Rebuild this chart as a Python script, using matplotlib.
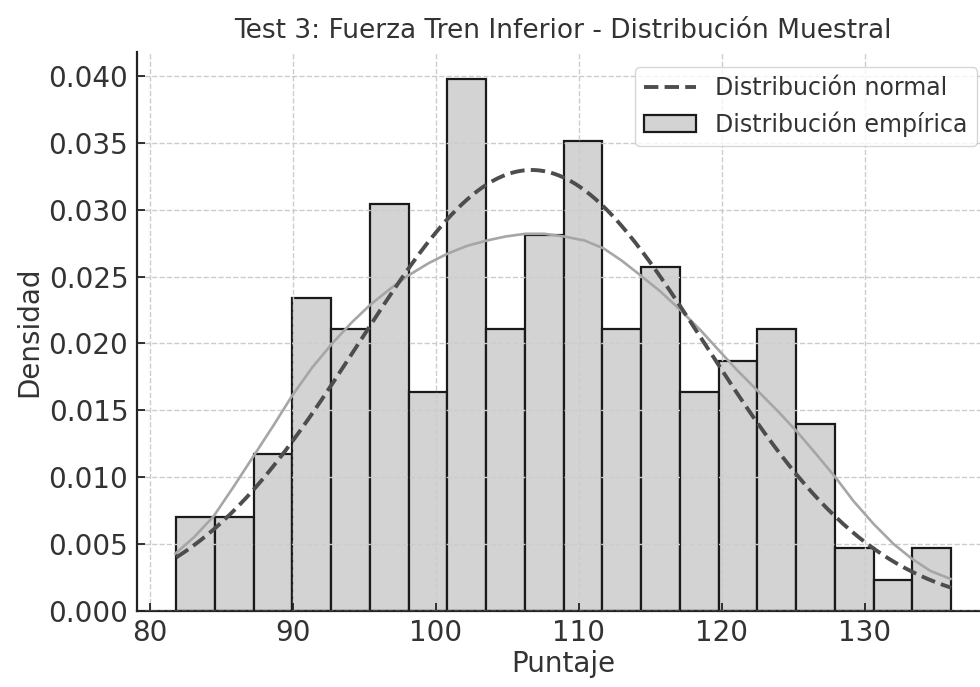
import matplotlib
matplotlib.use("Agg")
import matplotlib.pyplot as plt
import numpy as np

# histogram (density per bin)
bin_start = 81.85
bin_width = 2.71
densities = [0.0070, 0.0070, 0.0117, 0.0234, 0.0211, 0.0304, 0.0164, 0.0398,
             0.0211, 0.0281, 0.0351, 0.0211, 0.0257, 0.0164, 0.0187, 0.0211,
             0.0140, 0.0047, 0.0023, 0.0047]

# fitted normal
mu = 106.7
sigma = 12.1

kde_x = [81.80, 83.08, 84.48, 85.87, 87.27, 88.67, 89.96, 91.36, 92.76, 94.15,
         95.43, 96.83, 98.11, 99.50, 100.80, 102.20, 103.59, 104.90, 106.27,
         107.60, 108.95, 110.40, 111.75, 113.00, 114.31, 115.70, 117.11,
         118.51, 119.79, 121.08, 122.48, 123.87, 125.27, 126.55, 127.95,
         129.23, 130.63, 132.03, 133.31, 134.59, 135.99]
kde_y = [0.0043, 0.0055, 0.0071, 0.0093, 0.0116, 0.0139, 0.0161, 0.0182,
         0.0200, 0.0216, 0.0229, 0.0241, 0.0251, 0.0260, 0.0267, 0.0273,
         0.0277, 0.0280, 0.0282, 0.0282, 0.0280, 0.0277, 0.0271, 0.0262,
         0.0251, 0.0239, 0.0225, 0.0210, 0.0195, 0.0180, 0.0165, 0.0150,
         0.0134, 0.0118, 0.0100, 0.0082, 0.0065, 0.0050, 0.0039, 0.0030,
         0.0024]

title = "Test 3: Fuerza Tren Inferior - Distribución Muestral"
x_title = "Puntaje"
y_title = "Densidad"

TXT = "#333333"

fig = plt.figure(figsize=(9.8, 6.87), dpi=100)
ax = fig.add_axes([136.7 / 980, 76 / 687, (990 - 136.7) / 980, (611 - 52) / 687])

edges = bin_start + bin_width * np.arange(len(densities) + 1)
ax.hist(edges[:-1], bins=edges, weights=densities, color="#d3d3d3",
        edgecolor="#1a1a1a", linewidth=1.6, label="Distribución empírica",
        zorder=1)

xs = np.linspace(edges[0], edges[-1], 300)
pdf = np.exp(-0.5 * ((xs - mu) / sigma) ** 2) / (sigma * np.sqrt(2 * np.pi))
ax.plot(xs, pdf, linestyle="--", color="#4d4d4d", linewidth=2.8,
        label="Distribución normal", zorder=4)
ax.plot(kde_x, kde_y, color="#a6a6a6", linewidth=1.9, zorder=3)

ax.set_axisbelow(False)
ax.grid(True, linestyle="--", color="#cccccc", linewidth=1.0, zorder=2)

for side in ["top", "right"]:
    ax.spines[side].set_visible(False)
for side in ["left", "bottom"]:
    ax.spines[side].set_color("#222222")
    ax.spines[side].set_linewidth(1.6)

ax.set_xticks([80, 90, 100, 110, 120, 130])
ax.set_yticks([0.0, 0.005, 0.01, 0.015, 0.02, 0.025, 0.03, 0.035, 0.04])
ax.set_yticklabels(["0.000", "0.005", "0.010", "0.015", "0.020", "0.025",
                    "0.030", "0.035", "0.040"])
ax.tick_params(direction="in", length=6, width=1.3, labelsize=20,
               colors="#222222", labelcolor=TXT, pad=6)

ax.set_xlabel(x_title, fontsize=20, color=TXT, labelpad=2)
ax.set_ylabel(y_title, fontsize=20, color=TXT, labelpad=4)
fig.text(563 / 980, 1 - 31 / 687, title, fontsize=19, color=TXT,
         ha="center", va="center")

handles, labels = ax.get_legend_handles_labels()
leg = ax.legend(handles[::-1], labels[::-1], loc="upper right",
                bbox_to_anchor=(977 / 980, 1 - 67 / 687),
                bbox_transform=fig.transFigure, fontsize=17,
                frameon=True, fancybox=True, borderaxespad=0,
                handlelength=2.2, borderpad=0.4, labelspacing=0.45)
leg.get_frame().set_edgecolor("#cccccc")
for t in leg.get_texts():
    t.set_color(TXT)

fig.savefig("out.png", dpi=100)
